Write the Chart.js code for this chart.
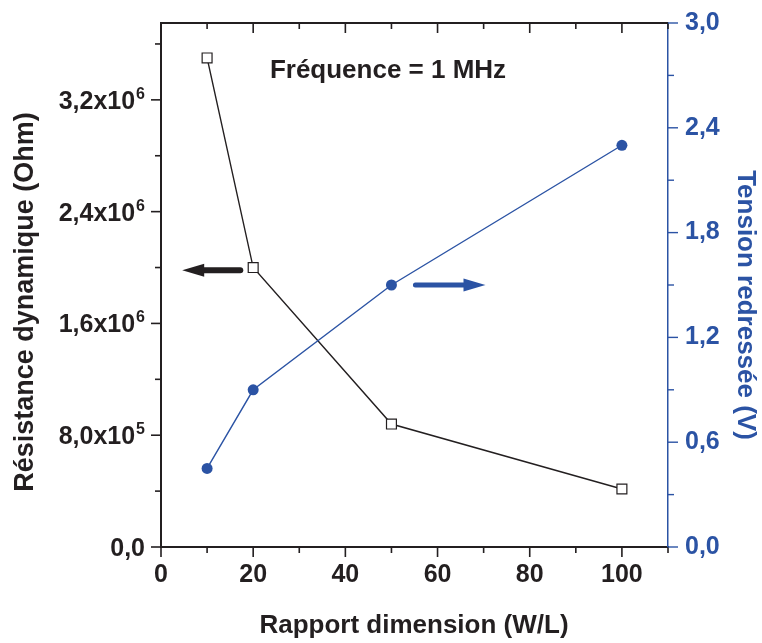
<!DOCTYPE html>
<html>
<head>
<meta charset="utf-8">
<script src="https://cdn.jsdelivr.net/npm/chart.js@4/dist/chart.umd.min.js"></script>
<style>
  html, body { margin: 0; padding: 0; background: #fff; }
  #wrap { width: 762px; height: 643px; }
</style>
</head>
<body>
<div id="wrap"><canvas id="chart" width="762" height="643"></canvas></div>
<script>
const ratioWL = [10, 20, 50, 100];
const resistance = [3.5e6, 2.0e6, 8.8e5, 4.15e5];
const tension = [0.45, 0.90, 1.50, 2.30];

const xTitle = 'Rapport dimension (W/L)';
const yTitle = 'Résistance dynamique (Ohm)';
const y1Title = 'Tension redressée (V)';
const noteText = 'Fréquence = 1 MHz';

const BLACK = '#231f20';
const BLUE = '#2b53a4';
const FONT = '"Liberation Sans", Arial, sans-serif';

const Y_MINOR = 4e5;
const Y_MAJOR = 8e5;

// arrows pointing to the axis each curve belongs to (data units)
const arrowLeft = { from: 17.2, to: 4.6, y: 1.98e6 };
const arrowRight = { from: 55.2, to: 70.4, y: 1.5 };

const isMult = (v, step) => Math.abs(v / step - Math.round(v / step)) < 1e-6;

function sciLabel(v) {
  if (v === 0) return { m: '0,0', e: '' };
  const e = Math.floor(Math.log10(v) + 1e-9);
  const m = (v / Math.pow(10, e)).toFixed(1).replace('.', ',');
  return { m: m + 'x10', e: String(e) };
}

const decor = {
  id: 'decor',
  afterDraw(chart) {
    const { ctx, chartArea: a, scales } = chart;
    const x = scales.x, y = scales.y, y1 = scales.y1;
    ctx.save();

    // top frame line
    ctx.strokeStyle = BLACK;
    ctx.lineWidth = 2;
    ctx.beginPath();
    ctx.moveTo(a.left - 1, a.top);
    ctx.lineTo(a.right, a.top);
    ctx.stroke();

    // x ticks: bottom outward, top inward
    ctx.lineWidth = 1.6;
    x.ticks.forEach(t => {
      if (!isMult(t.value, 10)) return;
      const px = x.getPixelForValue(t.value);
      const len = isMult(t.value, 20) ? 10 : 6;
      ctx.beginPath();
      ctx.moveTo(px, a.bottom);
      ctx.lineTo(px, a.bottom + len);
      ctx.moveTo(px, a.top);
      ctx.lineTo(px, a.top + len);
      ctx.stroke();
    });

    // left y ticks + labels with exponent
    for (let k = 0; k * Y_MINOR <= y.max; k++) {
      const v = k * Y_MINOR;
      const py = y.getPixelForValue(v);
      const major = isMult(v, Y_MAJOR);
      ctx.strokeStyle = BLACK;
      ctx.beginPath();
      ctx.moveTo(a.left, py);
      ctx.lineTo(a.left - (major ? 10 : 6), py);
      ctx.stroke();
      if (!major) continue;
      const lab = sciLabel(v);
      ctx.fillStyle = BLACK;
      ctx.textAlign = 'right';
      ctx.textBaseline = 'alphabetic';
      let right = a.left - 16;
      if (lab.e) {
        ctx.font = 'bold 16px ' + FONT;
        ctx.fillText(lab.e, right, py - 1);
        right -= ctx.measureText(lab.e).width + 1;
      }
      ctx.font = 'bold 25px ' + FONT;
      ctx.fillText(lab.m, right, py + 9);
    }

    // right y ticks
    ctx.strokeStyle = BLUE;
    ctx.lineWidth = 1.4;
    y1.ticks.forEach((t, i) => {
      const py = y1.getPixelForValue(t.value);
      ctx.beginPath();
      ctx.moveTo(a.right, py);
      ctx.lineTo(a.right + (i % 2 === 0 ? 10 : 6), py);
      ctx.stroke();
    });

    // arrows
    function arrow(scaleY, spec, color, thick) {
      const x0 = x.getPixelForValue(spec.from);
      const x1 = x.getPixelForValue(spec.to);
      const py = scaleY.getPixelForValue(spec.y);
      const dir = Math.sign(x1 - x0);
      const headLen = 22;
      ctx.strokeStyle = color;
      ctx.fillStyle = color;
      ctx.lineWidth = thick;
      ctx.lineCap = 'round';
      ctx.beginPath();
      ctx.moveTo(x0, py);
      ctx.lineTo(x1 - dir * (headLen - 2), py);
      ctx.stroke();
      ctx.beginPath();
      ctx.moveTo(x1, py);
      ctx.lineTo(x1 - dir * headLen, py - 6.5);
      ctx.lineTo(x1 - dir * headLen, py + 6.5);
      ctx.closePath();
      ctx.fill();
    }
    arrow(y, arrowLeft, BLACK, 6);
    arrow(y1, arrowRight, BLUE, 5);

    // note
    ctx.fillStyle = BLACK;
    ctx.font = 'bold 26px ' + FONT;
    ctx.textAlign = 'center';
    ctx.textBaseline = 'alphabetic';
    ctx.fillText(noteText, 388, 78);

    // axis titles
    ctx.font = 'bold 26px ' + FONT;
    ctx.fillText(xTitle, 414, 633);

    ctx.save();
    ctx.font = 'bold 27px ' + FONT;
    ctx.translate(33, 302);
    ctx.rotate(-Math.PI / 2);
    ctx.fillText(yTitle, 0, 0);
    ctx.restore();

    ctx.save();
    ctx.fillStyle = BLUE;
    ctx.translate(738, 305);
    ctx.rotate(Math.PI / 2);
    ctx.fillText(y1Title, 0, 0);
    ctx.restore();

    ctx.restore();
  }
};

new Chart(document.getElementById('chart'), {
  type: 'line',
  data: {
    datasets: [
      {
        label: 'Tension',
        data: ratioWL.map((v, i) => ({ x: v, y: tension[i] })),
        yAxisID: 'y1',
        borderColor: BLUE,
        borderWidth: 1.4,
        backgroundColor: BLUE,
        pointStyle: 'circle',
        pointRadius: 5.5,
        pointBorderWidth: 0,
        tension: 0
      },
      {
        label: 'Resistance',
        data: ratioWL.map((v, i) => ({ x: v, y: resistance[i] })),
        yAxisID: 'y',
        borderColor: BLACK,
        borderWidth: 1.4,
        backgroundColor: '#ffffff',
        pointStyle: 'rect',
        pointRadius: 7,
        pointBorderWidth: 1.2,
        pointBorderColor: BLACK,
        tension: 0
      }
    ]
  },
  options: {
    responsive: false,
    animation: false,
    layout: { padding: { top: 23, left: 0, right: 0, bottom: 0 } },
    plugins: { legend: { display: false }, tooltip: { enabled: false } },
    scales: {
      x: {
        type: 'linear',
        min: 0,
        max: 110,
        grid: { display: false, drawTicks: false },
        border: { display: true, color: BLACK, width: 2 },
        afterFit: s => { s.height = 96; s.paddingLeft = 0; s.paddingRight = 0; },
        ticks: {
          stepSize: 10,
          padding: 13,
          minRotation: 0,
          maxRotation: 0,
          autoSkip: false,
          color: BLACK,
          font: { family: FONT, size: 25, weight: 'bold' },
          callback: v => (isMult(v, 20) && v <= 100 ? String(v) : '')
        }
      },
      y: {
        type: 'linear',
        position: 'left',
        min: 0,
        max: 3.75e6,
        grid: { display: false, drawTicks: false },
        border: { display: true, color: BLACK, width: 2 },
        afterFit: s => { s.width = 161; s.paddingTop = 0; s.paddingBottom = 0; },
        ticks: { display: false, stepSize: Y_MINOR }
      },
      y1: {
        type: 'linear',
        position: 'right',
        min: 0,
        max: 3.0,
        grid: { display: false, drawTicks: false },
        border: { display: true, color: BLUE, width: 1.5 },
        afterFit: s => { s.width = 94; s.paddingTop = 0; s.paddingBottom = 0; },
        ticks: {
          stepSize: 0.3,
          padding: 17,
          color: BLUE,
          font: { family: FONT, size: 25, weight: 'bold' },
          callback: (v, i) => (i % 2 === 0 ? v.toFixed(1).replace('.', ',') : '')
        }
      }
    }
  },
  plugins: [decor]
});
</script>
</body>
</html>
